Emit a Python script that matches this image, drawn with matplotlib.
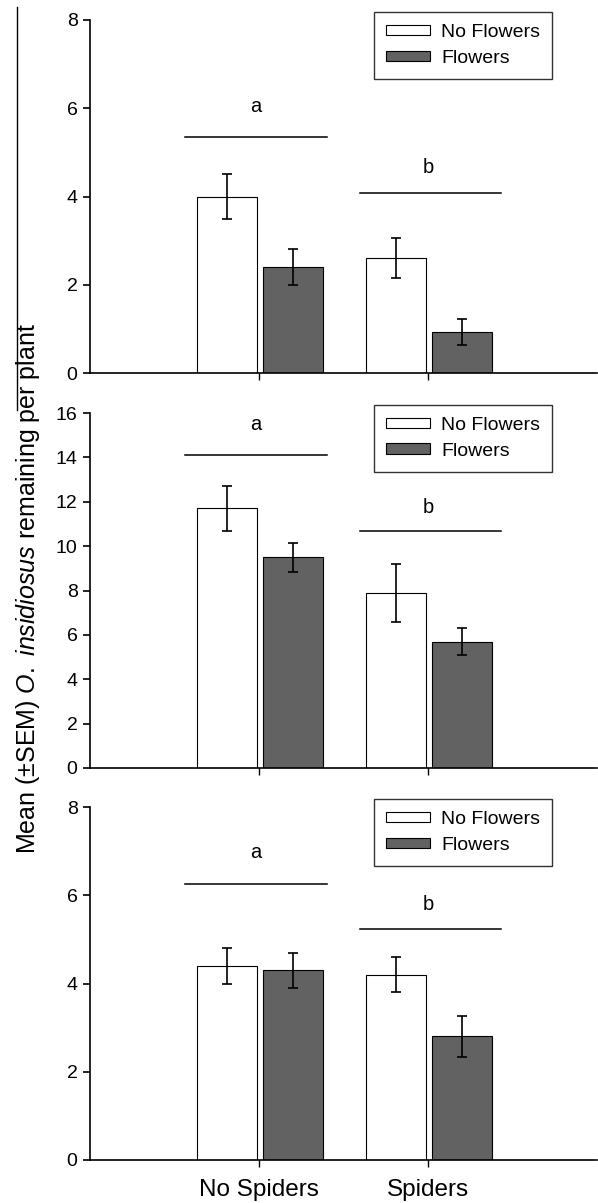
import matplotlib
matplotlib.use("Agg")
import matplotlib.pyplot as plt
from matplotlib.lines import Line2D

plt.rcParams['font.family'] = ['Liberation Sans', 'DejaVu Sans']
plt.rcParams['mathtext.fontset'] = 'custom'
plt.rcParams['mathtext.rm'] = 'Liberation Sans'
plt.rcParams['mathtext.it'] = 'Liberation Sans:italic'

# Daten
kategorien = ["No Spiders", "Spiders"]
serien = ["No Flowers", "Flowers"]

# je Panel: Mittelwerte und SEM fuer [No Spiders, Spiders]
oben_ohne = [4.0, 2.6]
oben_ohne_err = [0.5, 0.45]
oben_mit = [2.4, 0.93]
oben_mit_err = [0.4, 0.3]

mitte_ohne = [11.7, 7.9]
mitte_ohne_err = [1.0, 1.3]
mitte_mit = [9.5, 5.7]
mitte_mit_err = [0.65, 0.6]

unten_ohne = [4.4, 4.2]
unten_ohne_err = [0.4, 0.4]
unten_mit = [4.3, 2.8]
unten_mit_err = [0.4, 0.46]

buchstaben = ["a", "b"]
sig_linie = [[5.35, 4.08], [14.1, 10.7], [6.26, 5.24]]
sig_text = [[6.03, 4.65], [15.5, 11.76], [6.98, 5.78]]

y_max = [8, 16, 8]
y_schritt = [2, 2, 2]

panels = [
    (oben_ohne, oben_ohne_err, oben_mit, oben_mit_err),
    (mitte_ohne, mitte_ohne_err, mitte_mit, mitte_mit_err),
    (unten_ohne, unten_ohne_err, unten_mit, unten_mit_err),
]

W, H = 598, 1203
fig = plt.figure(figsize=(W / 100, H / 100), dpi=100)

# Achsenpositionen in Pixel (links, oben, rechts, unten)
ax_px = [(90, 20, 597, 373), (90, 413, 597, 768), (90, 807, 597, 1160)]

dunkel = '#626262'
breite = 0.355
x = [0, 1]

for i, (ohne, ohne_err, mit, mit_err) in enumerate(panels):
    l, t, r, b = ax_px[i]
    ax = fig.add_axes([l / W, 1 - b / H, (r - l) / W, (b - t) / H])

    ax.bar([k - 0.19 for k in x], ohne, breite, color='white', edgecolor='black',
           linewidth=0.8, label=serien[0], zorder=2)
    ax.bar([k + 0.2 for k in x], mit, breite, color=dunkel, edgecolor='black',
           linewidth=0.8, label=serien[1], zorder=2)
    ax.errorbar([k - 0.19 for k in x], ohne, yerr=ohne_err, fmt='none', ecolor='black',
                elinewidth=1.2, capsize=3.3, capthick=1.2, zorder=3)
    ax.errorbar([k + 0.2 for k in x], mit, yerr=mit_err, fmt='none', ecolor='black',
                elinewidth=1.2, capsize=3.3, capthick=1.2, zorder=3)

    # Signifikanz-Linien und Buchstaben
    ax.plot([-0.44, 0.40], [sig_linie[i][0]] * 2, color='black', lw=1.1)
    ax.plot([0.60, 1.43], [sig_linie[i][1]] * 2, color='black', lw=1.1)
    ax.text(-0.02, sig_text[i][0], buchstaben[0], ha='center', va='center', fontsize=14.5)
    ax.text(1.0, sig_text[i][1], buchstaben[1], ha='center', va='center', fontsize=14.5)

    ax.set_xlim(-1, 2)
    ax.set_ylim(0, y_max[i])
    ax.set_yticks(range(0, y_max[i] + 1, y_schritt[i]))
    ax.set_xticks(x)
    if i == 2:
        ax.set_xticklabels(kategorien, fontsize=17.5)
    else:
        ax.set_xticklabels([])

    for s in ['top', 'right']:
        ax.spines[s].set_visible(False)
    for s in ['left', 'bottom']:
        ax.spines[s].set_linewidth(1.2)
    ax.tick_params(axis='y', direction='out', length=5, width=1.2, labelsize=14, pad=4)
    ax.tick_params(axis='x', direction='out', length=5, width=1.0, pad=9)

    leg = ax.legend(loc='upper left', bbox_to_anchor=(0.56, 1.023), borderaxespad=0,
                    fontsize=14, frameon=True, fancybox=False, edgecolor='black',
                    handlelength=2.25, handleheight=0.45, handletextpad=0.6,
                    labelspacing=0.45, borderpad=0.62)
    leg.get_frame().set_linewidth(1.0)

# gemeinsame Y-Beschriftung
fig.text(28 / W, 1 - 588 / H,
         r"Mean (±SEM) $\mathit{O.\ insidiosus}$ remaining per plant",
         rotation=90, ha='center', va='center', fontsize=18)

# Strich am linken Rand
fig.add_artist(Line2D([17 / W, 17 / W], [1 - 7 / H, 1 - 410 / H], color='black', lw=1.0))

fig.savefig("out.png", dpi=100)
